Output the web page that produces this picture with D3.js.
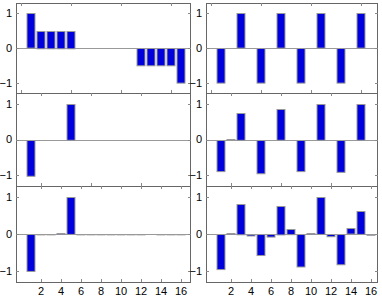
<!DOCTYPE html>
<html>
<head>
<meta charset="utf-8">
<script src="https://cdn.jsdelivr.net/npm/d3@7"></script>
<style>
  body { margin: 0; background: #fff; }
  text { font-family: "Liberation Sans", Arial, sans-serif; font-size: 11px; fill: #000; }
</style>
</head>
<body>
<div id="chart"></div>
<script>
// bar index 1..16
var idx = d3.range(1, 17);

var topLeft  = [1, 0.5, 0.5, 0.5, 0.5, 0, 0, 0, 0, 0, 0, -0.5, -0.5, -0.5, -0.5, -1];
var topRight = [-1, 0, 1, 0, -1, 0, 1, 0, -1, 0, 1, 0, -1, 0, 1, 0];
var midLeft  = [-1, 0, 0, 0, 1, 0, 0, 0, 0, 0, 0, 0, 0, 0, 0, 0];
var midRight = [-0.87, 0.01, 0.75, 0, -0.93, 0, 0.86, 0, -0.87, 0, 1.0, 0, -0.89, 0, 1.0, 0];
var botLeft  = [-1, 0.01, 0.01, 0.02, 1, 0.01, 0.01, 0.01, -0.01, 0.01, 0.01, 0.01, 0, -0.01, -0.01, -0.01];
var botRight = [-0.95, 0.02, 0.82, -0.04, -0.57, -0.07, 0.77, 0.14, -0.88, 0.02, 1.0, -0.06, -0.82, 0.15, 0.62, -0.02];

var yTicks = [-1, 0, 1];
var xTicksTop = [0, 5, 10, 15];
var xTicksMid = [2, 7, 12];
var xTicksBot = [2, 4, 6, 8, 10, 12, 14, 16];

var svg = d3.select("#chart").append("svg")
    .attr("width", 382)
    .attr("height", 296);

var cols = [
  {x0: 16,  x1: 191, dom: [-0.5, 17]},
  {x0: 206, x1: 378, dom: [-0.5, 16.7]}
];
var rows = [
  {y0: 3,   y1: 93,  ticks: xTicksTop},
  {y0: 93,  y1: 186, ticks: xTicksMid},
  {y0: 186, y1: 282, ticks: xTicksBot}
];
var panels = [
  [topLeft, topRight],
  [midLeft, midRight],
  [botLeft, botRight]
];

rows.forEach(function(r, ri){
  cols.forEach(function(c, ci){
    var vals = panels[ri][ci];
    var x = d3.scaleLinear().domain(c.dom).range([c.x0, c.x1]);
    var y = d3.scaleLinear().domain([-1.3, 1.3]).range([r.y1, r.y0]);
    var g = svg.append("g");

    // baseline
    g.append("line")
        .attr("x1", c.x0).attr("x2", c.x1)
        .attr("y1", Math.round(y(0)) + 0.5).attr("y2", Math.round(y(0)) + 0.5)
        .attr("stroke", "#999");

    g.selectAll("rect")
        .data(vals)
        .enter()
        .append("rect")
        .attr("x", function(d,i){ return x(idx[i] - 0.4); })
        .attr("width", function(){ return x(0.8) - x(0); })
        .attr("y", function(d){ return Math.round(y(Math.max(d, 0))) + 0.5; })
        .attr("height", function(d){ return Math.abs(y(d) - y(0)); })
        .attr("fill", "#0000dc")
        .attr("stroke", "#999")
        .attr("stroke-width", 1);

    // frame
    g.append("rect")
        .attr("x", c.x0 + 0.5).attr("y", r.y0 + 0.5)
        .attr("width", c.x1 - c.x0 - 1).attr("height", r.y1 - r.y0)
        .attr("fill", "none")
        .attr("stroke", "#666");

    // x ticks (inward, top and bottom)
    r.ticks.forEach(function(t){
      var px = Math.round(x(t)) + 0.5;
      g.append("line").attr("x1", px).attr("x2", px)
          .attr("y1", r.y0).attr("y2", r.y0 + 3).attr("stroke", "#888");
      g.append("line").attr("x1", px).attr("x2", px)
          .attr("y1", r.y1).attr("y2", r.y1 - 3).attr("stroke", "#888");
    });

    // y ticks + labels
    yTicks.forEach(function(t){
      var py = Math.round(y(t)) + 0.5;
      g.append("line").attr("x1", c.x0).attr("x2", c.x0 + 3)
          .attr("y1", py).attr("y2", py).attr("stroke", "#888");
      g.append("line").attr("x1", c.x1).attr("x2", c.x1 - 3)
          .attr("y1", py).attr("y2", py).attr("stroke", "#888");
      g.append("text")
          .attr("x", c.x0 - 4)
          .attr("y", y(t))
          .attr("dy", "0.36em")
          .attr("text-anchor", "end")
          .text(t < 0 ? "\u2212" + Math.abs(t) : t);
    });

    if (ri == 2) {
      xTicksBot.forEach(function(t){
        g.append("text")
            .attr("x", x(t))
            .attr("y", 291)
            .attr("dy", "0.36em")
            .attr("text-anchor", "middle")
            .text(t);
      });
    }
  });
});
</script>
</body>
</html>
